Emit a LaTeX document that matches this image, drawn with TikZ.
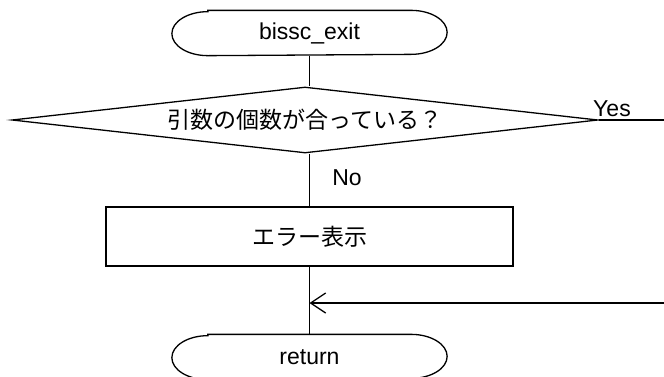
\documentclass[tikz,border=0pt]{standalone}
\usepackage{fontspec}
\setmainfont{Liberation Sans}
\newfontfamily\cjk{Noto Sans CJK JP}
\usetikzlibrary{shapes.geometric,arrows.meta}
\newcommand\myterm[1]{%
  \draw ([xshift=36pt]#1.north west) -- ([xshift=-36pt]#1.north east)
    arc[start angle=90,end angle=-90,x radius=36pt,y radius=22pt]
    -- ([xshift=36pt]#1.south west)
    arc[start angle=270,end angle=90,x radius=36pt,y radius=22pt] -- cycle;}
\begin{document}
\begin{tikzpicture}[x=1pt,y=-1pt,line width=1.3pt,
  every node/.style={font=\fontsize{23}{27}\selectfont},
  term/.style={minimum width=274pt,minimum height=44pt,inner sep=0pt},
  proc/.style={draw,minimum width=407pt,minimum height=59pt,inner sep=0pt},
  decision/.style={draw,diamond,aspect=8.88,minimum width=586pt,minimum height=66pt,inner sep=0pt},
  lbl/.style={inner sep=0pt}]
\useasboundingbox (0,0) rectangle (664,376);
\node[term] (start) at (309.5,33) {bissc\_exit};
\myterm{start}
\node[decision] (dia) at (305,120) {\cjk 引数の個数が合っている？};
\node[proc] (err) at (309.5,236.5) {\cjk エラー表示};
\node[term] (ret) at (309.5,357) {return};
\myterm{ret}
\coordinate (yesend) at (664,120);
\coordinate (backstart) at (664,303);
\coordinate (join) at (309.5,303);
\node[lbl] (yes) at (612,109) {Yes};
\node[lbl] (no) at (347,178) {No};
\draw (start.south) -- (start.south |- dia.north);
\draw (dia.east) -- (yesend);
\draw (err.north |- dia.south) -- (err.north);
\draw (err.south) -- (ret.north);
\draw[-{Straight Barb[length=15pt,width=20pt,line width=1.3pt]}] (backstart) -- (join);
\end{tikzpicture}
\end{document}
